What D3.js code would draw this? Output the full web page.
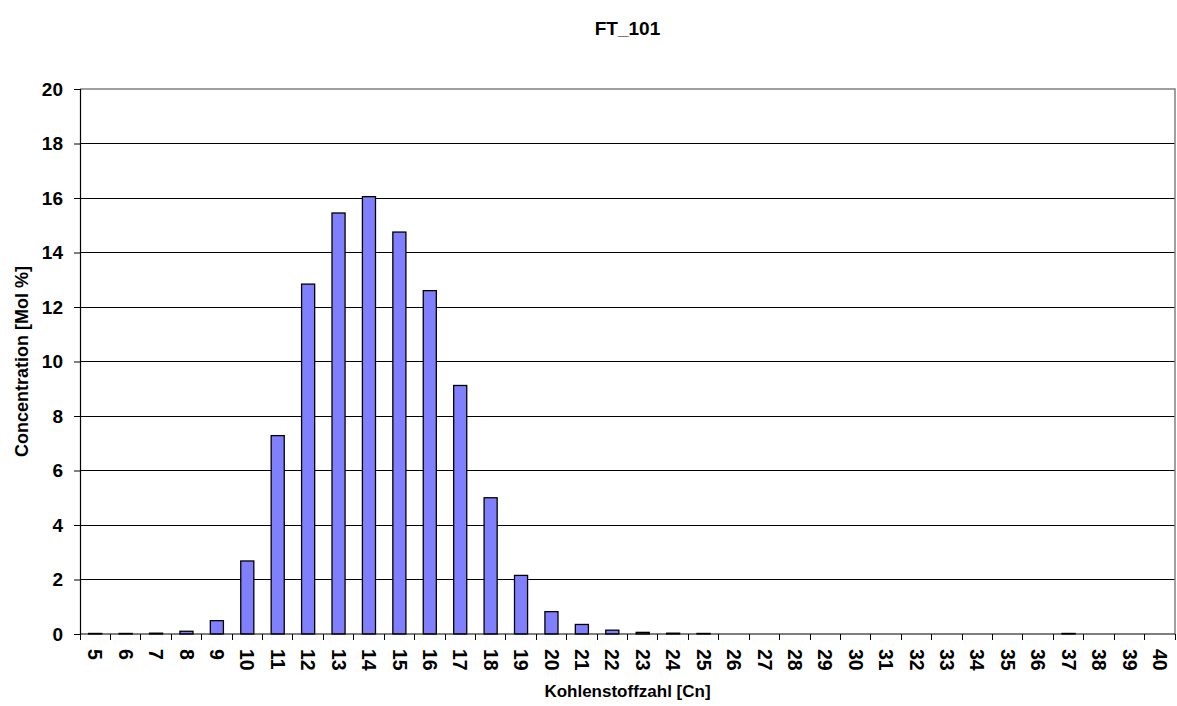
<!DOCTYPE html>
<html><head><meta charset="utf-8">
<script src="https://cdn.jsdelivr.net/npm/d3@7"></script>
<style>body{margin:0;background:#fff;} svg{display:block;font-family:"Liberation Sans",Arial,sans-serif;}</style>
</head><body>
<svg id="c" width="1177" height="706"></svg>
<script>
const categories = ["5","6","7","8","9","10","11","12","13","14","15","16","17","18","19","20","21","22","23","24","25","26","27","28","29","30","31","32","33","34","35","36","37","38","39","40"];
const values = [0.02,0.02,0.03,0.1,0.49,2.68,7.28,12.84,15.45,16.05,14.75,12.6,9.12,5.0,2.15,0.82,0.35,0.14,0.06,0.03,0.02,0,0,0,0,0,0,0,0,0,0,0,0.02,0,0,0];
const yTicks = [0,2,4,6,8,10,12,14,16,18,20];
const title = "FT_101";
const xTitle = "Kohlenstoffzahl [Cn]";
const yTitle = "Concentration [Mol %]";

const svg = d3.select("#c");
const L = 80, R = 1175, T = 89, B = 634;
const x = d3.scaleBand().domain(categories).range([L, R]).paddingInner(0.57).paddingOuter(0.285);
const y = d3.scaleLinear().domain([0, 20]).range([B, T]);

// gridlines
svg.append("g").selectAll("line").data(yTicks.filter(d => d > 0 && d < 20)).join("line")
  .attr("x1", L).attr("x2", R).attr("y1", d => y(d)).attr("y2", d => y(d))
  .attr("stroke", "#000").attr("stroke-width", 1).attr("shape-rendering", "crispEdges");
// border top/right
svg.append("path").attr("d", `M${L},${y(20)}H${R}V${B}`).attr("fill", "none")
  .attr("stroke", "#808080").attr("stroke-width", 1.5);

// bars
svg.append("g").selectAll("rect").data(categories).join("rect")
  .attr("x", d => x(d)).attr("width", x.bandwidth())
  .attr("y", (d, i) => y(values[i])).attr("height", (d, i) => B - y(values[i]))
  .attr("fill", "#8080ff").attr("stroke", "#000").attr("stroke-width", 1.3);

// y axis
const yAxis = d3.axisLeft(y).tickValues(yTicks).tickSize(6).tickPadding(11);
const gy = svg.append("g").attr("transform", `translate(${L},0)`).call(yAxis);
gy.select(".domain").attr("stroke", "#000").attr("stroke-width", 1.2);
gy.selectAll(".tick line").attr("stroke", "#000");
gy.selectAll("text").attr("font-size", 19).attr("font-weight", "bold").attr("fill", "#000")
  .attr("font-family", "Liberation Sans, Arial, sans-serif");

// x axis with ticks at band boundaries
const xEdge = d3.scaleLinear().domain([0, categories.length]).range([L, R]);
const gx = svg.append("g");
gx.append("line").attr("x1", L).attr("x2", R).attr("y1", B).attr("y2", B).attr("stroke", "#000").attr("stroke-width", 1.2);
gx.selectAll("line.t").data(d3.range(categories.length + 1)).join("line").attr("class", "t")
  .attr("x1", d => xEdge(d)).attr("x2", d => xEdge(d)).attr("y1", B).attr("y2", B + 6)
  .attr("stroke", "#000").attr("shape-rendering", "crispEdges");
gx.selectAll("text").data(categories).join("text")
  .attr("transform", d => `translate(${x(d) + x.bandwidth() / 2},${B + 15}) rotate(90)`)
  .attr("dy", "0.35em").attr("text-anchor", "start")
  .attr("font-size", 19.5).attr("font-weight", "bold").text(d => d);

// titles
svg.append("text").attr("x", (L + R) / 2).attr("y", 35).attr("text-anchor", "middle")
  .attr("font-size", 19).attr("font-weight", "bold").text(title);
svg.append("text").attr("x", (L + R) / 2).attr("y", 697).attr("text-anchor", "middle")
  .attr("font-size", 17).attr("font-weight", "bold").text(xTitle);
svg.append("text").attr("transform", `translate(28,${(T + B) / 2}) rotate(-90)`).attr("text-anchor", "middle")
  .attr("font-size", 18).attr("font-weight", "bold").text(yTitle);
</script>
</body></html>
